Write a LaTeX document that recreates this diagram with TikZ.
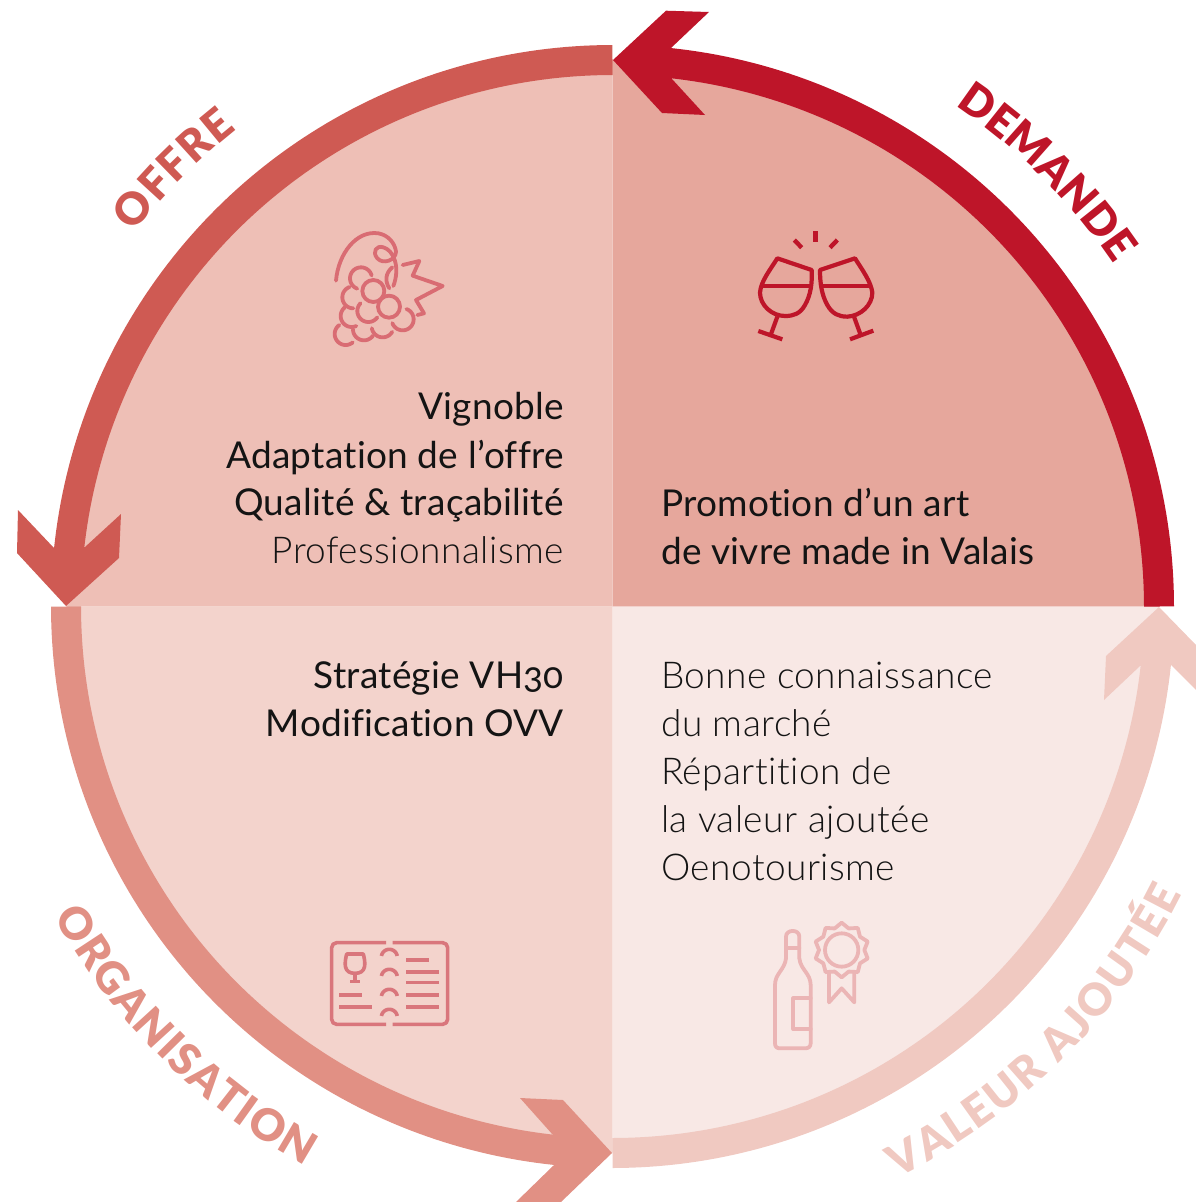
\documentclass[tikz,border=0pt]{standalone}
\usepackage{fontspec}
\usetikzlibrary{decorations.text}
\setmainfont{Lato}
\newfontfamily\regf[Numbers=OldStyle,Ligatures=NoCommon,LetterSpace=0.7]{Lato}
\newfontfamily\lightf[Ligatures=NoCommon,LetterSpace=1.25]{Lato Light}
\newfontfamily\lblf{Lato Black}
\definecolor{cDem}{HTML}{BE1529}
\definecolor{cOff}{HTML}{CF5A53}
\definecolor{cOrg}{HTML}{E19084}
\definecolor{cVal}{HTML}{F0C9C1}
\definecolor{fDem}{HTML}{E6A79C}
\definecolor{fOff}{HTML}{EEBFB6}
\definecolor{fOrg}{HTML}{F3D3CC}
\definecolor{fVal}{HTML}{F8E8E5}
\definecolor{icOff}{HTML}{D96C73}
\definecolor{icOrg}{HTML}{D9767C}
\definecolor{icVal}{HTML}{EBB5B5}
\definecolor{inkc}{HTML}{141414}
\newcommand{\parc}[5]{plot[domain=#4:#5,samples=90] ({#1+#3*cos(\x)},{#2+#3*sin(\x)})}
\newcommand{\parcL}[5]{-- plot[domain=#4:#5,samples=90] ({#1+#3*cos(\x)},{#2+#3*sin(\x)})}
\newcommand{\sarc}[5]{plot[domain=#4:#5,samples=24] ({#1+#3*cos(\x)},{#2+#3*sin(\x)})}
\tikzset{
  band/.style={draw=#1,line width=30pt,line cap=butt},
  lineR/.style={font=\regf\fontsize{37}{48}\selectfont,text=inkc,inner sep=0pt},
  lineL/.style={font=\lightf\fontsize{37}{48}\selectfont,text=inkc,inner sep=0pt},
  ic/.style={draw=#1,line width=3.8pt,line cap=round,line join=round},
  icb/.style={draw=#1,line width=3.6pt,line cap=butt,line join=round},
  arctext/.style args={#1/#2}{decorate,decoration={text along path,
    text={|\lblf\fontsize{44}{44}\selectfont\color{#1}|#2},
    text align={fit to path}}}
}
\begin{document}
\begin{tikzpicture}[x=1pt,y=-1pt]
\useasboundingbox (0,0) rectangle (1196,1202);
% quadrants
\fill[fDem] (612.5,606.5) \parcL{612.5}{606.5}{546.5}{-90}{0} -- cycle;
\fill[fOff] (612.5,606.5) \parcL{612.5}{606.5}{546.5}{-180}{-90} -- cycle;
\fill[fOrg] (612.5,606.5) \parcL{612.5}{606.5}{546.5}{90}{180} -- cycle;
\fill[fVal] (612.5,606.5) \parcL{612.5}{606.5}{546.5}{0}{90} -- cycle;
% bands
\draw[band=cOff] \parc{612.5}{606.5}{546.5}{-90}{-175};
\draw[band=cOrg] \parc{612.5}{606.5}{546.5}{180}{95};
\draw[band=cVal] \parc{612.5}{606.5}{546.5}{90}{5};
\draw[band=cDem] \parc{612.5}{606.5}{546.5}{0}{-85};
% heads
\fill[cDem] (613,60) -- (666,10.7) -- (709,12) -- (671,48) -- (672,79) -- (705,115) -- (662,113) -- cycle;
\fill[cOff] (66,606) -- (17,553) -- (18,510) -- (54,548) -- (85,547) -- (121,514) -- (119,558) -- cycle;
\fill[cOrg] (612,1153) -- (563,1100) -- (520,1098) -- (553,1135) -- (554,1165) -- (516,1202) -- (561,1202) -- cycle;
\fill[cVal] (1159,607) -- (1196,645) -- (1196,690) -- (1171,665) -- (1140,666) -- (1104,700) -- (1106,656) -- cycle;
% curved labels
\path[arctext={cDem/DEMANDE}] \parc{612.5}{606.5}{607}{-55.6}{-35.2};
\path[arctext={cOff/OFFRE}] \parc{612.5}{606.5}{607}{-142}{-128.2};
\path[arctext={cOrg/ORGANISATION}] \parc{612.5}{606.5}{638.5}{151}{118.8};
\path[arctext={cVal/VALEUR AJOUTÉE}] \parc{612.5}{606.5}{638.5}{63.5}{26.8};
% texts
\node[lineR,anchor=base east] (o1) at (564,419) {Vignoble};
\node[lineR,anchor=base east] (o2) at (564,468) {Adaptation de l’offre};
\node[lineR,anchor=base east] (o3) at (564,515) {Qualité \& traçabilité};
\node[lineL,anchor=base east] (o4) at (564,563) {Professionnalisme};
\node[lineR,anchor=base west] (d1) at (661,516) {Promotion d’un art};
\node[lineR,anchor=base west] (d2) at (661,564) {de vivre made in Valais};
\node[lineR,anchor=base east] (g1) at (564,688) {Stratégie VH30};
\node[lineR,anchor=base east] (g2) at (564,736) {Modification OVV};
\node[lineL,anchor=base west] (v1) at (661,688) {Bonne connaissance};
\node[lineL,anchor=base west] (v2) at (661,736) {du marché};
\node[lineL,anchor=base west] (v3) at (661,784) {Répartition de};
\node[lineL,anchor=base west] (v4) at (661,832) {la valeur ajoutée};
\node[lineL,anchor=base west] (v5) at (661,880) {Oenotourisme};
% grape icon
\begin{scope}[shift={(300,210)},x=0.33333pt,y=-0.33333pt]
\draw[ic=icOff] (108,212) .. controls (115,130) and (170,60) .. (235,70) .. controls (265,75) and (285,100) .. (288,125) .. controls (288,150) and (250,165) .. (232,145) .. controls (215,125) and (230,105) .. (250,112) .. controls (280,120) and (302,170) .. (280,228);
\draw[ic=icOff] (277,172) .. controls (255,190) and (255,215) .. (268,235);
\draw[ic=icOff] (220,243) circle[radius=33];
\draw[ic=icOff] (267,290) circle[radius=33];
\draw[ic=icOff] \sarc{183}{205}{33}{-15}{-250};
\draw[ic=icOff] \sarc{160}{262}{33}{-110}{-270};
\draw[ic=icOff] \sarc{205}{303}{33}{225}{35};
\draw[ic=icOff] \sarc{155}{318}{33}{230}{65};
\draw[ic=icOff] \sarc{308}{328}{33}{-70}{160};
\draw[ic=icOff] \sarc{137}{372}{33}{235}{50};
\draw[ic=icOff] \sarc{192}{358}{33}{180}{35};
\draw[ic=icOff] \sarc{248}{349}{33}{170}{30};
\draw[ic=icOff] (308,165) -- (358,153) -- (338,197) -- (428,228) -- (348,270) -- (372,310) -- (352,315);
\end{scope}
% glasses icon
\begin{scope}[shift={(740,220)},x=0.33333pt,y=-0.33333pt]
\draw[icb=cDem,line width=4.2pt] (112,115) -- (215,150) .. controls (217,190) and (212,225) .. (195,255) .. controls (180,282) and (160,288) .. (135,288) .. controls (95,288) and (60,255) .. (60,218) .. controls (62,185) and (90,150) .. cycle;
\draw[icb=cDem,line width=4.2pt] (65,198) -- (212,198);
\draw[icb=cDem,line width=4.2pt] (112,290) -- (92,345);
\draw[icb=cDem,line width=4.2pt] (55,333) -- (127,358);
\draw[icb=cDem,line width=4.2pt] (345,115) -- (240,150) .. controls (240,190) and (245,225) .. (262,255) .. controls (277,282) and (297,290) .. (322,290) .. controls (362,288) and (397,255) .. (397,218) .. controls (393,185) and (367,150) .. cycle;
\draw[icb=cDem,line width=4.2pt] (245,198) -- (390,198);
\draw[icb=cDem,line width=4.2pt] (342,290) -- (362,345);
\draw[icb=cDem,line width=4.2pt] (330,358) -- (400,332);
\draw[icb=cDem,line width=4.8pt] (226,33) -- (226,65);
\draw[icb=cDem,line width=4.4pt] (163,60) -- (185,83);
\draw[icb=cDem,line width=4.4pt] (292,60) -- (270,83);
\end{scope}
% book icon
\begin{scope}[shift={(320,930)},x=0.33333pt,y=-0.33333pt]
\draw[icb=icOrg,rounded corners=5pt] (198,38) -- (35,38) -- (35,283) -- (198,283);
\draw[icb=icOrg,rounded corners=5pt] (218,38) -- (383,38) -- (383,283) -- (218,283);
\draw[icb=icOrg] (80,72) -- (130,72) .. controls (137,100) and (140,130) .. (105,130) .. controls (70,130) and (73,100) .. cycle;
\draw[icb=icOrg] (105,130) -- (105,155);
\draw[icb=icOrg] (90,155) -- (120,155);
\draw[icb=icOrg] (57,195) -- (126,195);
\draw[icb=icOrg] (57,231) -- (156,231);
\draw[icb=icOrg] (258,90) -- (327,90);
\draw[icb=icOrg] (258,126) -- (357,126);
\draw[icb=icOrg] (258,158) -- (357,158);
\draw[icb=icOrg] (258,195) -- (357,195);
\draw[icb=icOrg] (258,231) -- (357,231);
\draw[icb=icOrg] \sarc{208}{82}{24}{-170}{-10};
\draw[icb=icOrg] \sarc{208}{142}{24}{-170}{-10};
\draw[icb=icOrg] \sarc{208}{202}{24}{-170}{-10};
\draw[icb=icOrg] \sarc{208}{262}{24}{-170}{-10};
\end{scope}
% bottle icon
\begin{scope}[shift={(760,915)},x=0.33333pt,y=-0.33333pt]
\draw[ic=icVal] (78,130) -- (78,65) .. controls (78,42) and (118,42) .. (118,65) -- (118,130) .. controls (122,165) and (152,175) .. (152,210) -- (152,385) .. controls (152,395) and (145,400) .. (135,400) -- (60,400) .. controls (50,400) and (45,395) .. (45,385) -- (45,210) .. controls (45,175) and (74,165) .. cycle;
\draw[ic=icVal] (78,98) -- (118,98);
\draw[ic=icVal] (152,250) -- (100,250) -- (100,342) -- (152,342);
\draw[ic=icVal] (245,105) circle[radius=50];
\draw[ic=icVal] plot[domain=-90:270,samples=21] ({245+(75+7*cos(10*(\x+90)))*cos(\x)},{105+(75+7*cos(10*(\x+90)))*sin(\x)}) -- cycle;
\draw[ic=icVal] (207,170) -- (207,262) -- (245,220) -- (283,262) -- (283,170);
\end{scope}
\end{tikzpicture}
\end{document}
